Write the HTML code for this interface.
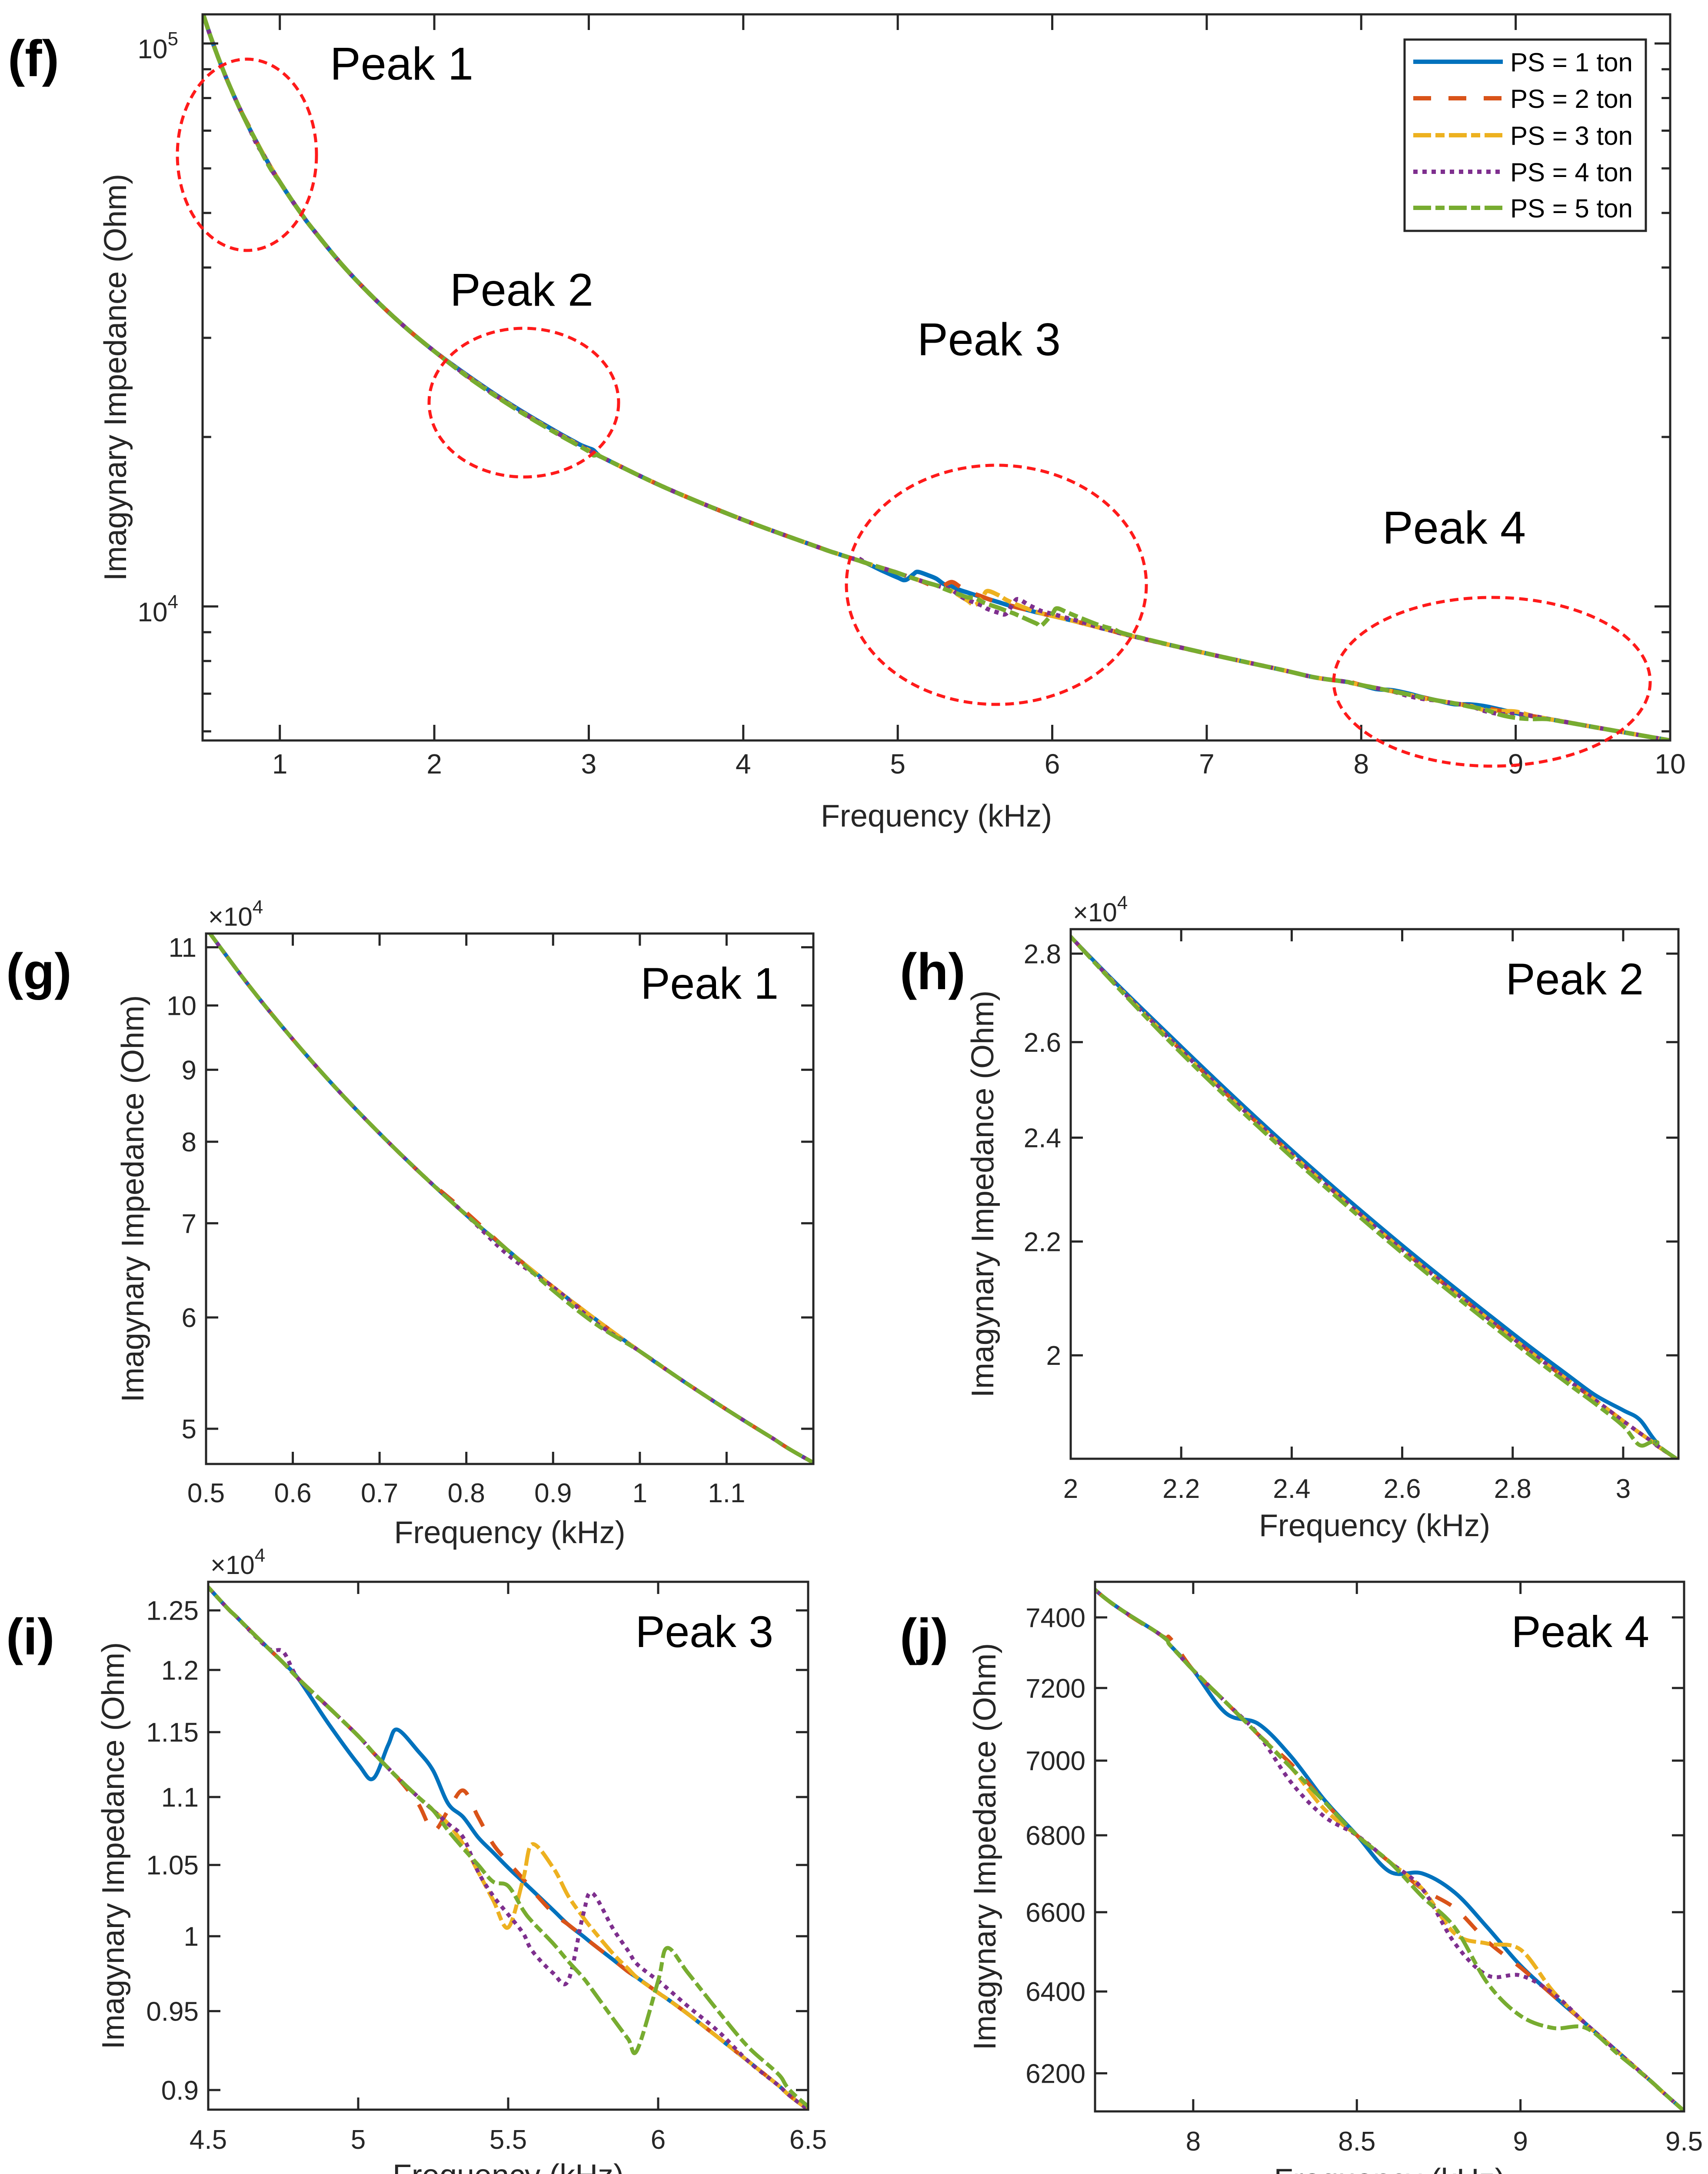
<!DOCTYPE html>
<html><head><meta charset="utf-8"><style>
html,body{margin:0;padding:0;background:#fff;width:3929px;height:5094px;overflow:hidden;}
svg{display:block;font-family:"Liberation Sans",Arial,sans-serif;}
</style></head><body>
<svg id="fig" width="3929" height="5094" viewBox="0 0 3929 5094" xmlns="http://www.w3.org/2000/svg"></svg>
<script>
// ---- data (frequency in kHz, imaginary impedance in Ohm) ----
const freqKHz = [0.5,0.55,0.6,0.65,0.7,0.75,0.8,0.85,0.9,0.95,1.0,1.05,1.1,1.15,1.2,1.4,1.6,1.8,2.0,2.2,2.4,2.6,2.8,2.9,2.95,3.0,3.03,3.06,3.1,3.5,4.0,4.5,4.6,4.7,4.75,4.8,4.9,5.0,5.05,5.1,5.13,5.2,5.25,5.3,5.35,5.4,5.45,5.5,5.55,5.58,5.65,5.7,5.75,5.78,5.85,5.9,5.93,6.0,6.03,6.1,6.2,6.3,6.4,6.5,7.0,7.5,7.7,7.9,7.93,8.0,8.1,8.2,8.3,8.4,8.5,8.6,8.7,8.8,8.9,9.0,9.1,9.2,9.3,9.4,9.5,10];
const ps1Values = [113500,103200,94600,87300,81100,75700,70950,66800,63070,59750,56760,54060,51600,49360,47300,40540,35480,31530,28400,25900,23750,21930,20370,19670,19340,19100,18950,18600,18320,16230,14250,12700,12430,12180,12060,11930,11570,11250,11140,11400,11520,11350,11200,10950,10850,10700,10590,10480,10380,10320,10180,10080,10000,9950,9840,9760,9720,9620,9580,9480,9330,9180,9030,8880,8250,7700,7480,7350,7320,7250,7130,7100,7010,6895,6800,6705,6700,6650,6560,6465,6390,6320,6250,6180,6110,5780];
const ps2Values = [113500,103200,94600,87300,81100,75700,71250,66800,63070,59750,56760,54060,51600,49360,47300,40540,35480,31530,28400,25820,23670,21850,20290,19590,19260,18930,18740,18560,18320,16230,14250,12700,12430,12180,12060,11930,11700,11470,11340,11220,11150,10950,10750,10900,11050,10850,10650,10520,10400,10320,10160,10080,10000,9950,9840,9760,9720,9620,9580,9480,9330,9180,9030,8880,8250,7700,7480,7350,7340,7250,7160,7070,6990,6890,6800,6730,6660,6610,6525,6460,6390,6320,6250,6180,6110,5780];
const ps3Values = [113500,103200,94600,87300,81100,75700,70950,66800,63070,59750,56760,54060,51600,49360,47300,40540,35480,31530,28400,25820,23670,21850,20290,19590,19260,18930,18740,18560,18320,16230,14250,12700,12430,12180,12060,11930,11700,11470,11340,11220,11150,11000,10900,10800,10650,10450,10250,10060,10400,10650,10480,10280,10130,10050,9880,9780,9720,9620,9580,9480,9330,9180,9030,8880,8250,7700,7480,7350,7320,7250,7160,7070,6980,6870,6800,6730,6660,6545,6520,6505,6400,6320,6250,6180,6110,5780];
const ps4Values = [113500,103200,94600,87300,81100,75700,70950,66300,63070,59450,56760,54060,51600,49360,47300,40540,35480,31530,28400,25820,23670,21850,20290,19590,19260,18930,18740,18560,18320,16230,14250,12700,12430,12180,12150,11930,11700,11470,11340,11220,11150,11000,10900,10800,10700,10450,10280,10150,10020,9900,9750,9700,10150,10300,10050,9900,9810,9700,9650,9530,9370,9180,9030,8880,8250,7700,7480,7350,7320,7250,7160,7070,6940,6850,6800,6730,6660,6520,6440,6440,6395,6320,6250,6180,6110,5780];
const ps5Values = [113500,103200,94600,87300,81100,75700,70950,66800,62700,59300,56760,54060,51600,49360,47300,40540,35480,31530,28400,25760,23610,21790,20230,19530,19200,18850,18550,18600,18320,16230,14250,12700,12430,12180,12060,11930,11700,11470,11340,11220,11150,11000,10900,10750,10620,10500,10380,10350,10180,10100,9950,9830,9720,9640,9450,9320,9250,9700,9920,9750,9500,9270,9100,8900,8250,7700,7480,7350,7320,7250,7160,7070,6980,6890,6800,6730,6640,6560,6420,6340,6310,6310,6245,6180,6110,5780];
const seriesLabels = ["PS = 1 ton","PS = 2 ton","PS = 3 ton","PS = 4 ton","PS = 5 ton"];

// ---- tick arrays ----
const fXTicks = [1,2,3,4,5,6,7,8,9,10];
const fYMajor = [10000,100000];
const fYMinor = [6000,7000,8000,9000,20000,30000,40000,50000,60000,70000,80000,90000];
const gXTicks = [0.5,0.6,0.7,0.8,0.9,1,1.1];
const gYTicks = [50000,60000,70000,80000,90000,100000,110000];
const gYLabels = ["5","6","7","8","9","10","11"];
const hXTicks = [2,2.2,2.4,2.6,2.8,3];
const hYTicks = [20000,22000,24000,26000,28000];
const hYLabels = ["2","2.2","2.4","2.6","2.8"];
const iXTicks = [4.5,5,5.5,6,6.5];
const iYTicks = [9000,9500,10000,10500,11000,11500,12000,12500];
const iYLabels = ["0.9","0.95","1","1.05","1.1","1.15","1.2","1.25"];
const jXTicks = [8,8.5,9,9.5];
const jYTicks = [6200,6400,6600,6800,7000,7200,7400];
const jYLabels = ["6200","6400","6600","6800","7000","7200","7400"];

const NS="http://www.w3.org/2000/svg";
const svg=document.getElementById('fig');
function mk(tag,attrs,parent){const e=document.createElementNS(NS,tag);for(const k in attrs)e.setAttribute(k,attrs[k]);(parent||svg).appendChild(e);return e;}
const AX="#262626";
const styles=[
 {c:"#0072BD",d:""},
 {c:"#D95319",d:"41 40"},
 {c:"#EDB120",d:"41 10 21 10"},
 {c:"#7E2F8E",d:"10 11"},
 {c:"#77AC30",d:"41 10 21 10"}];
const allSeries=[ps1Values,ps2Values,ps3Values,ps4Values,ps5Values];

function smoothPath(pts){
  let d="M"+pts[0][0].toFixed(1)+","+pts[0][1].toFixed(1);
  for(let i=0;i<pts.length-1;i++){
    const p0=pts[Math.max(0,i-1)],p1=pts[i],p2=pts[i+1],p3=pts[Math.min(pts.length-1,i+2)];
    const c1x=p1[0]+(p2[0]-p0[0])/6,c1y=p1[1]+(p2[1]-p0[1])/6;
    const c2x=p2[0]-(p3[0]-p1[0])/6,c2y=p2[1]-(p3[1]-p1[1])/6;
    d+=" C"+c1x.toFixed(1)+","+c1y.toFixed(1)+" "+c2x.toFixed(1)+","+c2y.toFixed(1)+" "+p2[0].toFixed(1)+","+p2[1].toFixed(1);
  }
  return d;
}

function panel(cfg){
  const g=mk('g',{});
  
  
  const X=v=>cfg.x0+(v-cfg.xmin)/(cfg.xmax-cfg.xmin)*(cfg.x1-cfg.x0);
  const L=Math.log10;
  const Y=v=>cfg.y0+(L(cfg.ymax)-L(v))/(L(cfg.ymax)-L(cfg.ymin))*(cfg.y1-cfg.y0);
  const cid='clip-'+cfg.name;
  const cp=mk('clipPath',{id:cid},g);
  mk('rect',{x:cfg.x0,y:cfg.y0,width:cfg.x1-cfg.x0,height:cfg.y1-cfg.y0},cp);
  const sg=mk('g',{'clip-path':'url(#'+cid+')'},g);
  allSeries.forEach((vals,si)=>{
    const pts=[];
    for(let i=0;i<freqKHz.length;i++){
      const f=freqKHz[i];
      if(i+1<freqKHz.length && freqKHz[i+1]<cfg.xmin) continue;
      if(i>0 && freqKHz[i-1]>cfg.xmax) break;
      pts.push([X(f),Y(vals[i])]);
    }
    const p=mk('path',{d:smoothPath(pts),fill:'none',stroke:styles[si].c,'stroke-width':cfg.lw,'stroke-dasharray':styles[si].d,'stroke-linejoin':'round'},sg);
    
    
  });
  const box=mk('rect',{x:cfg.x0,y:cfg.y0,width:cfg.x1-cfg.x0,height:cfg.y1-cfg.y0,fill:'none',stroke:AX,'stroke-width':5},g);
  
  
  const tl=cfg.tick;
  cfg.xticks.forEach((t,i)=>{
    const x=X(t);
    mk('line',{x1:x,y1:cfg.y1,x2:x,y2:cfg.y1-tl,stroke:AX,'stroke-width':5},g);
    mk('line',{x1:x,y1:cfg.y0,x2:x,y2:cfg.y0+tl,stroke:AX,'stroke-width':5},g);
    const tx=mk('text',{x:x,y:cfg.y1+cfg.xlabOff,'font-size':cfg.fs,'text-anchor':'middle',fill:AX},g);
    tx.textContent=String(t);
    
    
  });
  cfg.yticks.forEach((t,i)=>{
    const y=Y(t);
    mk('line',{x1:cfg.x0,y1:y,x2:cfg.x0+tl,y2:y,stroke:AX,'stroke-width':5},g);
    mk('line',{x1:cfg.x1,y1:y,x2:cfg.x1-tl,y2:y,stroke:AX,'stroke-width':5},g);
    if(cfg.ylabels){
      const tx=mk('text',{x:cfg.x0-22,y:y+22,'font-size':cfg.fs,'text-anchor':'end',fill:AX},g);
      tx.textContent=cfg.ylabels[i];
      
      
    }
  });
  (cfg.yminor||[]).forEach(t=>{
    const y=Y(t);
    mk('line',{x1:cfg.x0,y1:y,x2:cfg.x0+tl*0.55,y2:y,stroke:AX,'stroke-width':5},g);
    mk('line',{x1:cfg.x1,y1:y,x2:cfg.x1-tl*0.55,y2:y,stroke:AX,'stroke-width':5},g);
  });
  const xl=mk('text',{x:(cfg.x0+cfg.x1)/2,y:cfg.y1+cfg.xtitleOff,'font-size':72,'text-anchor':'middle',fill:AX},g);
  xl.textContent='Frequency (kHz)';
  
  
  const yx=cfg.ytitleX, yy=(cfg.y0+cfg.y1)/2;
  const yl=mk('text',{x:yx,y:yy,'font-size':72,'text-anchor':'middle',fill:AX,transform:'rotate(-90 '+yx+' '+yy+')'},g);
  yl.textContent='Imagynary Impedance (Ohm)';
  
  
  if(cfg.exp){
    const ex=mk('text',{x:cfg.x0+5,y:cfg.y0-18,'font-size':60,fill:AX},g);
    ex.innerHTML='×10<tspan dy="-28" font-size="44">4</tspan>';
    
    
  }
  const pl=mk('text',{x:cfg.letterX,y:cfg.letterY,'font-size':118,'font-weight':'bold',fill:'#000'},g);
  pl.textContent=cfg.letter;
  
  
  if(cfg.title){
    const pt=mk('text',{x:cfg.x1-80,y:cfg.y0+150,'font-size':102,'text-anchor':'end',fill:'#000'},g);
    pt.textContent=cfg.title;
    
    
  }
  return {g,X,Y};
}

// ---- panel f ----
const pf=panel({name:'panel-f',x0:466,x1:3842,y0:33,y1:1703,xmin:0.5,xmax:10,ymin:5780,ymax:112650,lw:10,tick:36,fs:64,
  xticks:fXTicks,yticks:fYMajor,yminor:fYMinor,xlabOff:76,xtitleOff:198,ytitleX:290,letter:'(f)',letterX:18,letterY:175});
[[100000,'5'],[10000,'4']].forEach(([v,e])=>{
  const t=mk('text',{x:410,y:pf.Y(v)+34,'font-size':62,'text-anchor':'end',fill:AX},pf.g);
  t.innerHTML='10<tspan dy="-30" font-size="44">'+e+'</tspan>';
  
  
});
[['Peak 1',759,183],['Peak 2',1035,703],['Peak 3',2110,817],['Peak 4',3180,1250]].forEach(([s,x,y])=>{
  const t=mk('text',{x:x,y:y,'font-size':106,fill:'#000'},pf.g);
  t.textContent=s;
  
  
});
[[568,356,160,220],[1205,926,218,171],[2292,1345,345,275],[3432,1568,364,194]].forEach(([cx,cy,rx,ry])=>{
  const e=mk('ellipse',{cx:cx,cy:cy,rx:rx,ry:ry,fill:'none',stroke:'#FF1A1A','stroke-width':7,'stroke-dasharray':'20 12'},pf.g);
  
  
});
const lg=mk('g',{},pf.g);


mk('rect',{x:3231,y:91,width:555,height:440,fill:'#fff',stroke:AX,'stroke-width':5},lg);
seriesLabels.forEach((s,i)=>{
  const y=[142,226,311,395,478][i];
  const ln=mk('line',{x1:3251,y1:y,x2:3457,y2:y,stroke:styles[i].c,'stroke-width':10,'stroke-dasharray':styles[i].d},lg);
  
  
  const t=mk('text',{x:3474,y:y+22,'font-size':60,fill:'#000'},lg);
  t.textContent=s;
  
  
});

// ---- sub-panels ----
panel({name:'panel-g',x0:474,x1:1871,y0:2147,y1:3367,xmin:0.5,xmax:1.2,ymin:47200,ymax:112500,lw:9,tick:28,fs:62,
  xticks:gXTicks,yticks:gYTicks,ylabels:gYLabels,xlabOff:88,xtitleOff:182,ytitleX:330,exp:true,letter:'(g)',letterX:14,letterY:2275,title:'Peak 1'});
panel({name:'panel-h',x0:2463,x1:3861,y0:2137,y1:3355,xmin:2,xmax:3.1,ymin:18340,ymax:28580,lw:9,tick:28,fs:62,
  xticks:hXTicks,yticks:hYTicks,ylabels:hYLabels,xlabOff:90,xtitleOff:178,ytitleX:2285,exp:true,letter:'(h)',letterX:2070,letterY:2275,title:'Peak 2'});
panel({name:'panel-i',x0:479,x1:1859,y0:3638,y1:4852,xmin:4.5,xmax:6.5,ymin:8880,ymax:12747,lw:9,tick:28,fs:62,
  xticks:iXTicks,yticks:iYTicks,ylabels:iYLabels,xlabOff:90,xtitleOff:176,ytitleX:285,exp:true,letter:'(i)',letterX:14,letterY:3805,title:'Peak 3'});
panel({name:'panel-j',x0:2519,x1:3874,y0:3638,y1:4856,xmin:7.7,xmax:9.5,ymin:6109,ymax:7503,lw:9,tick:28,fs:62,
  xticks:jXTicks,yticks:jYTicks,ylabels:jYLabels,xlabOff:90,xtitleOff:182,ytitleX:2290,letter:'(j)',letterX:2070,letterY:3805,title:'Peak 4'});
</script>
</body></html>
